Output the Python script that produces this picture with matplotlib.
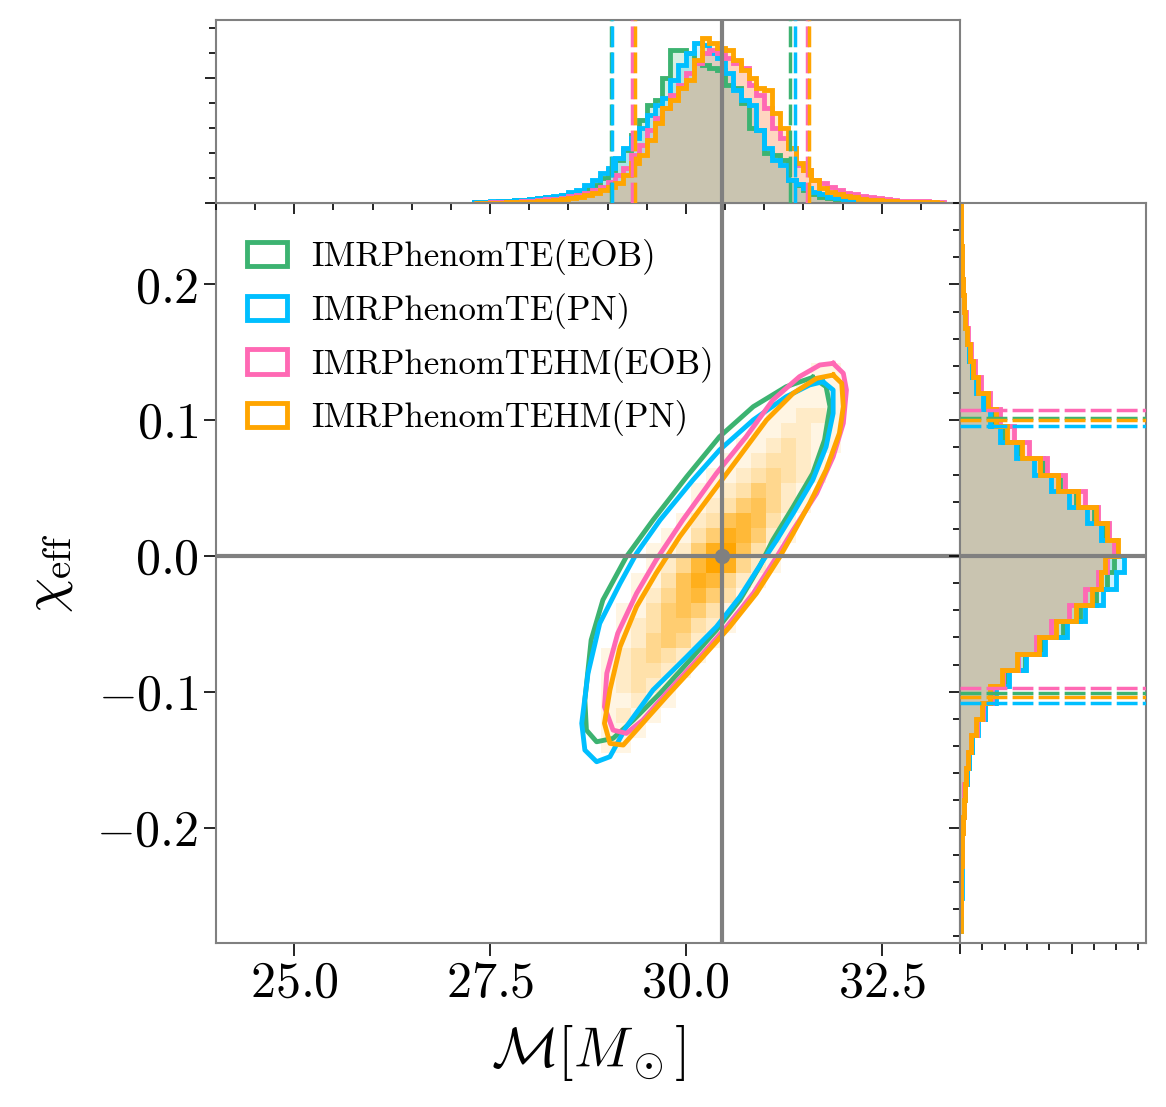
import numpy as np
import matplotlib
matplotlib.use("Agg")
import matplotlib.pyplot as plt
from matplotlib.colors import LinearSegmentedColormap
from matplotlib.patches import Patch
from matplotlib.ticker import MultipleLocator

plt.rcParams.update({
    "font.family": "serif",
    "font.serif": ["cmr10"],
    "mathtext.fontset": "cm",
    "axes.formatter.use_mathtext": True,
    "axes.unicode_minus": True,
})

# ---------------- data ----------------
labels = ["IMRPhenomTE(EOB)", "IMRPhenomTE(PN)", "IMRPhenomTEHM(EOB)", "IMRPhenomTEHM(PN)"]
colors = ["#3cb371", "#00bfff", "#ff69b4", "#ffa500"]

mc_true = 30.46
chi_true = 0.0

# 90% credible bounds (green, blue, pink, orange)
mc_lo = [29.04, 29.06, 29.31, 29.35]
mc_hi = [31.33, 31.39, 31.55, 31.57]
chi_lo = [-0.101, -0.108, -0.097, -0.104]
chi_hi = [0.102, 0.096, 0.1076, 0.100]

# chirp-mass marginal (density), bins 27.3 .. 33.3 (width 0.1)
mc_edges = np.linspace(27.3, 33.3, 61)
mc_green = [0.002, 0.004, 0.005, 0.006, 0.008, 0.01, 0.012, 0.014, 0.018, 0.022,
            0.025, 0.03, 0.035, 0.045, 0.055, 0.07, 0.10, 0.13, 0.17, 0.21,
            0.27, 0.33, 0.39, 0.41, 0.50, 0.61, 0.61, 0.60, 0.56, 0.55,
            0.54, 0.53, 0.47, 0.46, 0.40, 0.30, 0.29, 0.20, 0.19, 0.17,
            0.09, 0.07, 0.05, 0.035, 0.025, 0.018, 0.013, 0.01, 0.008, 0.006,
            0.005, 0.004, 0.003, 0.002, 0.002, 0.001, 0.001, 0, 0, 0]
mc_blue = [0.004, 0.005, 0.006, 0.007, 0.009, 0.011, 0.013, 0.016, 0.02, 0.023,
           0.027, 0.032, 0.045, 0.05, 0.07, 0.09, 0.12, 0.14, 0.18, 0.22,
           0.26, 0.30, 0.35, 0.39, 0.42, 0.49, 0.55, 0.60, 0.64, 0.63,
           0.60, 0.58, 0.52, 0.45, 0.41, 0.39, 0.29, 0.22, 0.17, 0.15,
           0.09, 0.075, 0.06, 0.045, 0.035, 0.025, 0.019, 0.015, 0.012, 0.009,
           0.007, 0.006, 0.005, 0.004, 0.003, 0.002, 0.002, 0.001, 0.001, 0]
mc_pink = [0, 0.001, 0.002, 0.003, 0.004, 0.005, 0.007, 0.009, 0.011, 0.014,
           0.017, 0.021, 0.027, 0.033, 0.04, 0.05, 0.065, 0.085, 0.11, 0.14,
           0.19, 0.23, 0.29, 0.34, 0.38, 0.43, 0.47, 0.52, 0.56, 0.60,
           0.61, 0.60, 0.58, 0.56, 0.54, 0.47, 0.43, 0.38, 0.30, 0.26,
           0.22, 0.15, 0.13, 0.09, 0.08, 0.065, 0.05, 0.04, 0.035, 0.028,
           0.022, 0.018, 0.014, 0.011, 0.009, 0.008, 0.007, 0.006, 0.005, 0.004]
mc_orange = [0, 0, 0, 0, 0.002, 0.003, 0.004, 0.005, 0.007, 0.009,
             0.011, 0.014, 0.02, 0.025, 0.03, 0.038, 0.05, 0.065, 0.08, 0.11,
             0.16, 0.19, 0.25, 0.32, 0.38, 0.41, 0.46, 0.49, 0.57, 0.66,
             0.64, 0.62, 0.61, 0.57, 0.53, 0.50, 0.46, 0.45, 0.36, 0.30,
             0.22, 0.16, 0.13, 0.09, 0.06, 0.045, 0.035, 0.028, 0.022, 0.017,
             0.013, 0.01, 0.008, 0.006, 0.005, 0.004, 0.003, 0.003, 0.002, 0.001]

# chi_eff marginal (density), bins -0.276 .. 0.264
chi_edges = np.linspace(-0.276, 0.264, 46)
chi_green = [0.03, 0.04, 0.05, 0.06, 0.08, 0.10, 0.13, 0.17, 0.22, 0.30,
             0.40, 0.55, 0.78, 1.10, 1.55, 2.10, 2.90, 3.70, 4.60, 5.40,
             6.10, 6.60, 6.90, 7.00, 6.50, 6.00, 5.20, 4.50, 3.70, 2.70,
             1.95, 1.45, 1.10, 0.75, 0.55, 0.42, 0.32, 0.24, 0.18, 0.13,
             0.10, 0.08, 0.06, 0.04, 0.03]
chi_blue = [0.05, 0.06, 0.07, 0.08, 0.09, 0.11, 0.14, 0.18, 0.23, 0.30,
            0.40, 0.55, 0.80, 1.10, 1.60, 2.20, 2.95, 3.80, 4.80, 5.60,
            6.40, 7.00, 7.35, 7.00, 6.30, 5.70, 4.90, 4.10, 3.30, 2.50,
            1.80, 1.35, 1.05, 0.70, 0.55, 0.42, 0.30, 0.22, 0.16, 0.12,
            0.09, 0.07, 0.05, 0.04, 0.03]
chi_pink = [0.02, 0.03, 0.04, 0.05, 0.07, 0.09, 0.12, 0.16, 0.20, 0.28,
            0.36, 0.50, 0.75, 1.05, 1.45, 1.95, 2.60, 3.40, 4.10, 4.90,
            5.60, 6.20, 6.60, 6.90, 6.70, 6.20, 5.60, 4.70, 3.90, 3.10,
            2.40, 1.80, 1.35, 0.95, 0.68, 0.50, 0.36, 0.26, 0.19, 0.14,
            0.11, 0.08, 0.06, 0.05, 0.04]
chi_orange = [0.03, 0.04, 0.05, 0.06, 0.08, 0.10, 0.13, 0.17, 0.22, 0.28,
              0.35, 0.50, 0.72, 1.00, 1.35, 1.90, 2.55, 3.55, 4.30, 5.20,
              5.90, 6.30, 6.50, 7.10, 6.60, 6.10, 5.30, 4.40, 3.60, 2.80,
              2.10, 1.60, 1.25, 0.80, 0.60, 0.45, 0.32, 0.24, 0.17, 0.13,
              0.10, 0.08, 0.06, 0.05, 0.04]

# 90% contours (closed polylines in (Mc, chi_eff))
ct_green_mc = [31.62, 31.79, 31.84, 31.77, 31.62, 31.37, 31.11, 30.94, 30.69, 30.39,
               30.09, 29.67, 29.33, 29.07, 28.86, 28.73, 28.71, 28.79, 28.94, 29.24,
               29.58, 30.01, 30.43, 30.86, 31.28]
ct_green_chi = [0.1316, 0.1247, 0.110, 0.0855, 0.0609, 0.0363, 0.0118, -0.0079, -0.0324, -0.0545,
                -0.0742, -0.1011, -0.1208, -0.1343, -0.1368, -0.1282, -0.1061, -0.0619, -0.0324, -0.0005,
                0.0265, 0.0584, 0.0879, 0.110, 0.1247]
ct_blue_mc = [31.75, 31.88, 31.88, 31.79, 31.62, 31.37, 31.16, 30.99, 30.69, 30.39,
              30.01, 29.58, 29.24, 29.03, 28.86, 28.71, 28.67, 28.75, 28.90, 29.16,
              29.37, 29.67, 30.09, 30.43, 30.86, 31.28, 31.58]
ct_blue_chi = [0.1284, 0.1223, 0.1051, 0.0805, 0.0560, 0.0315, 0.0118, -0.0029, -0.0300, -0.0521,
               -0.0742, -0.0987, -0.1257, -0.1478, -0.1515, -0.1429, -0.1232, -0.0864, -0.0496, -0.0201,
               0.0020, 0.0265, 0.0560, 0.0781, 0.1002, 0.1173, 0.1260]
ct_pink_mc = [31.88, 32.01, 32.05, 32.01, 31.88, 31.67, 31.37, 31.16, 30.86, 30.52,
              30.18, 29.75, 29.45, 29.24, 29.07, 28.96, 28.99, 29.13, 29.37, 29.62,
              29.96, 30.39, 30.77, 31.11, 31.45, 31.71]
ct_pink_chi = [0.1419, 0.1346, 0.1223, 0.0978, 0.0731, 0.0462, 0.0192, -0.0005, -0.0275, -0.0521,
               -0.0742, -0.1011, -0.1208, -0.1306, -0.1282, -0.1110, -0.0864, -0.0569, -0.0275, -0.0029,
               0.0265, 0.0609, 0.0879, 0.1149, 0.1321, 0.1407]
ct_orange_mc = [31.88, 31.99, 32.01, 31.96, 31.79, 31.58, 31.37, 31.20, 30.90, 30.56,
                30.18, 29.75, 29.37, 29.20, 29.03, 28.96, 29.03, 29.16, 29.37, 29.62,
                29.92, 30.30, 30.65, 31.03, 31.37, 31.67]
ct_orange_chi = [0.1333, 0.1272, 0.1100, 0.0904, 0.0634, 0.0388, 0.0167, -0.0005, -0.0275, -0.0521,
                 -0.0766, -0.1036, -0.1282, -0.1392, -0.1380, -0.1232, -0.0987, -0.0668, -0.0373, -0.0127,
                 0.0142, 0.0437, 0.0707, 0.1002, 0.1199, 0.1309]

# 2D histogram of IMRPhenomTEHM(PN) (relative counts 0-9), rows from top to bottom
h2_mc_edges = np.linspace(28.73, 32.177, 19)
h2_chi_edges = np.linspace(-0.1564, 0.1420, 28)
h2_rows = [
    "000000000000000110",
    "000000000000001110",
    "000000000000011110",
    "000000000000112210",
    "000000000001122110",
    "000000000011232110",
    "000000000112332100",
    "000000001123432100",
    "000000011235421000",
    "000000012356421000",
    "000000123676310000",
    "000001135875210000",
    "000011258963100000",
    "000012479842100000",
    "000113687421000000",
    "000124675310000000",
    "001135653100000000",
    "001235532100000000",
    "001245421000000000",
    "012343210000000000",
    "012332100000000000",
    "012321000000000000",
    "011211000000000000",
    "012110000000000000",
    "011100000000000000",
    "011000000000000000",
    "000000000000000000",
]

# ---------------- figure ----------------
W, H = 1166, 1107
fig = plt.figure(figsize=(W / 100, H / 100), dpi=100)
ax = fig.add_axes([216 / W, 164 / H, 744 / W, 740 / H])
axt = fig.add_axes([216 / W, 904 / H, 744 / W, 183 / H])
axr = fig.add_axes([960 / W, 164 / H, 186 / W, 740 / H])

gray = "#808080"
LW = 3.5
xlim = (24.0, 33.5)
ylim = (-0.285, 0.26)
dash = (0, (6, 1.5))

# 2D histogram
C = np.array([[int(ch) for ch in row] for row in h2_rows][::-1], dtype=float)
C = np.ma.masked_equal(C, 0)
cmap = LinearSegmentedColormap.from_list("wo", ["#ffffff", "#ffa500"])
ax.pcolormesh(h2_mc_edges, h2_chi_edges, C, cmap=cmap, vmin=0, vmax=9, zorder=1)

contours = [(ct_green_mc, ct_green_chi), (ct_blue_mc, ct_blue_chi),
            (ct_pink_mc, ct_pink_chi), (ct_orange_mc, ct_orange_chi)]
for (cx, cy), col in zip(contours, colors):
    ax.plot(list(cx) + [cx[0]], list(cy) + [cy[0]], color=col, lw=LW, zorder=3,
            solid_joinstyle="round")

ax.axvline(mc_true, color=gray, lw=3, zorder=5)
ax.axhline(chi_true, color=gray, lw=3, zorder=5)
ax.plot([mc_true], [chi_true], "o", color=gray, ms=10, zorder=6)

ax.set_xlim(*xlim)
ax.set_ylim(*ylim)
ax.set_xticks([25.0, 27.5, 30.0, 32.5])
ax.set_yticks([-0.2, -0.1, 0.0, 0.1, 0.2])
ax.tick_params(labelsize=36, length=9, width=1.2, direction="out")
ax.set_xlabel(r"$\mathcal{M}[M_\odot]$", fontsize=40)
ax.set_ylabel(r"$\chi_{\rm eff}$", fontsize=40)
ax.xaxis.set_label_coords(0.5, -0.108)
ax.yaxis.set_label_coords(-0.19, 0.5)

handles = [Patch(facecolor="none", edgecolor=c, lw=LW) for c in colors]
ax.legend(handles, labels, loc="upper left", bbox_to_anchor=(0.0, 1.0 - 5 / 740),
          frameon=False, fontsize=25, handlelength=1.15, handleheight=0.7,
          handletextpad=0.7, labelspacing=0.51)

# top marginal
mc_series = [mc_green, mc_blue, mc_pink, mc_orange]
for vals, col in zip(mc_series, colors):
    axt.stairs(vals, mc_edges, fill=True, color=col, alpha=0.2, lw=0)
for vals, col in zip(mc_series, colors):
    axt.stairs(vals, mc_edges, fill=False, color=col, lw=LW)
for lo, hi, col in zip(mc_lo, mc_hi, colors):
    axt.axvline(lo, color=col, lw=2.5, ls=dash, zorder=4)
    axt.axvline(hi, color=col, lw=2.5, ls=dash, zorder=4)
axt.axvline(mc_true, color=gray, lw=3, zorder=5)
axt.set_xlim(*xlim)
axt.set_ylim(0, 0.73)
axt.xaxis.set_major_locator(MultipleLocator(2.5))
axt.xaxis.set_minor_locator(MultipleLocator(0.5))
axt.yaxis.set_major_locator(MultipleLocator(0.5))
axt.yaxis.set_minor_locator(MultipleLocator(0.1))
axt.tick_params(which="both", labelbottom=False, labelleft=False, direction="out", width=1.2)
axt.tick_params(which="major", length=8)
axt.tick_params(which="minor", length=5)

# right marginal
chi_series = [chi_green, chi_blue, chi_pink, chi_orange]
for vals, col in zip(chi_series, colors):
    axr.stairs(vals, chi_edges, fill=True, color=col, alpha=0.2, lw=0,
               orientation="horizontal")
for vals, col in zip(chi_series, colors):
    axr.stairs(vals, chi_edges, fill=False, color=col, lw=LW, orientation="horizontal")
for lo, hi, col in zip(chi_lo, chi_hi, colors):
    axr.axhline(lo, color=col, lw=2.5, ls=dash, zorder=4)
    axr.axhline(hi, color=col, lw=2.5, ls=dash, zorder=4)
axr.axhline(chi_true, color=gray, lw=3, zorder=5)
axr.set_ylim(*ylim)
axr.set_xlim(0, 8.34)
axr.yaxis.set_major_locator(MultipleLocator(0.1))
axr.yaxis.set_minor_locator(MultipleLocator(0.02))
axr.xaxis.set_major_locator(MultipleLocator(5))
axr.xaxis.set_minor_locator(MultipleLocator(1))
axr.tick_params(which="both", labelbottom=False, labelleft=False, direction="out", width=1.2)
axr.tick_params(which="major", length=8)
axr.tick_params(which="minor", length=5)

for a in (ax, axt, axr):
    for sp in a.spines.values():
        sp.set_color(gray)
        sp.set_linewidth(1.5)

fig.savefig("out.png", dpi=100)
